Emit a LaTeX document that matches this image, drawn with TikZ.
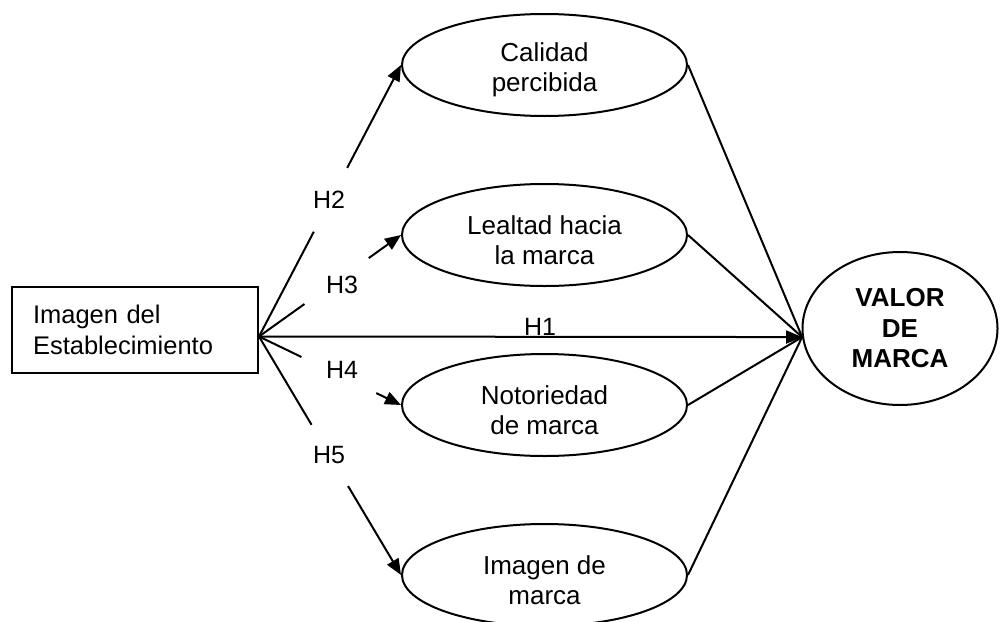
\documentclass[tikz,border=0pt]{standalone}
\usepackage{fontspec}
\setmainfont{Liberation Sans}
\usetikzlibrary{shapes.geometric,arrows.meta,calc}
\newcommand{\topstrut}{\rule{0pt}{29pt}}
\begin{document}
\begin{tikzpicture}[x=1pt,y=-1pt,line width=2pt,
  elli/.style={draw,ellipse,minimum width=285pt,minimum height=102pt,inner sep=0pt,align=center,font=\fontsize{26}{30}\selectfont},
  hlab/.style={font=\fontsize{25}{30}\selectfont,inner sep=0pt},
  arr/.style={-{Triangle[length=16pt,width=13pt]}}]
\useasboundingbox (0,0) rectangle (1000,621);
% nodes
\node[draw,minimum height=86pt,text width=204pt,inner xsep=21pt,inner ysep=0pt,align=left,font=\fontsize{25.5}{31.5}\selectfont] (img) at (135,330) {Imagen del\\Establecimiento};
\node[elli] (cal) at (544.5,65) {\topstrut Calidad\\percibida};
\node[elli] (lea) at (544.5,235) {\topstrut Lealtad hacia\\la marca};
\node[elli] (not) at (544.5,405) {\topstrut Notoriedad\\de marca};
\node[elli] (imm) at (544.5,575) {\topstrut Imagen de\\marca};
\node[draw,ellipse,minimum width=195pt,minimum height=153pt,inner sep=0pt,align=center,font=\bfseries\fontsize{26}{30.5}\selectfont] (val) at (900,328.5) {VALOR\\DE\\MARCA};
% labels
\node[hlab] (h2) at (329,200) {H2};
\node[hlab] (h3) at (342,285) {H3};
\node[hlab] (h4) at (342,370) {H4};
\node[hlab] (h5) at (329,455) {H5};
\node[hlab,anchor=base] (h1) at (540,335) {H1};
% connector points
\coordinate (src) at (img.-3.4);
\coordinate (vin) at (val.185);
\coordinate (h2a) at ($(src)!0.386!(cal.west)$);
\coordinate (h2b) at ($(src)!0.621!(cal.west)$);
\coordinate (h3a) at ($(src)!0.32!(lea.west)$);
\coordinate (h3b) at ($(src)!0.773!(lea.west)$);
\coordinate (h4a) at ($(src)!0.299!(not.west)$);
\coordinate (h4b) at ($(src)!0.826!(not.west)$);
\coordinate (h5a) at ($(src)!0.37!(imm.west)$);
\coordinate (h5b) at ($(src)!0.627!(imm.west)$);
% connectors
\draw (src) -- (h2a);
\draw[arr] (h2b) -- (cal.west);
\draw (src) -- (h3a);
\draw[arr] (h3b) -- (lea.west);
\draw (src) -- (h4a);
\draw[arr] (h4b) -- (not.west);
\draw (src) -- (h5a);
\draw[arr] (h5b) -- (imm.west);
\draw[arr] (src) -- (vin);
\draw (cal.east) -- (vin);
\draw (lea.east) -- (vin);
\draw (not.east) -- (vin);
\draw (imm.east) -- (vin);
\end{tikzpicture}
\end{document}
